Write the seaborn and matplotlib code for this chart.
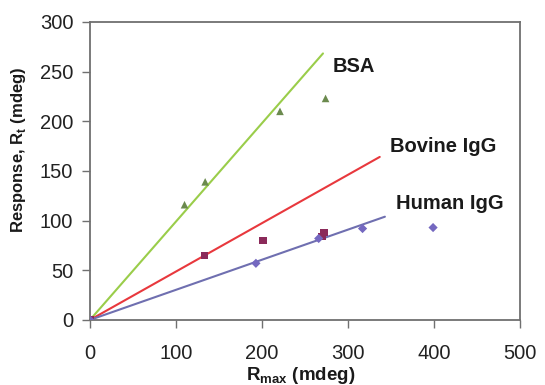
import matplotlib
matplotlib.use("Agg")
import matplotlib.pyplot as plt
import seaborn as sns

sns.set_style("white")
plt.rcParams['font.family'] = ['Liberation Sans', 'DejaVu Sans']
plt.rcParams['mathtext.fontset'] = 'custom'
plt.rcParams['mathtext.rm'] = 'Liberation Sans'
plt.rcParams['mathtext.bf'] = 'Liberation Sans:bold'

# data
bsa_x = [0, 110, 134, 221, 274]
bsa_y = [0, 116, 139, 210, 223]
bov_x = [0, 133, 201, 270, 272]
bov_y = [0, 65, 80, 84, 88]
hum_x = [0, 193, 266, 317, 399]
hum_y = [0, 57, 82, 92, 93]

# fitted lines through origin: slope and x extent
fit_names = ["BSA", "Bovine IgG", "Human IgG"]
fit_slopes = [0.99, 0.487, 0.303]
fit_xend = [271, 337, 343]

line_colors = ["#9acd4a", "#e8383d", "#6f6fb0"]
mark_colors = ["#6b8a4e", "#8b2a5a", "#7468c0"]
markers = ["^", "s", "D"]
msizes = [30, 30, 22]

fig = plt.figure(figsize=(5.45, 3.85), dpi=100)
ax = fig.add_axes([0.165, 0.169, 0.789, 0.774])

for i, name in enumerate(fit_names):
    lx = [0, fit_xend[i]]
    ly = [0, fit_slopes[i] * fit_xend[i]]
    sns.lineplot(x=lx, y=ly, ax=ax, color=line_colors[i], linewidth=1.5)

for i, (xs, ys) in enumerate([(bsa_x, bsa_y), (bov_x, bov_y), (hum_x, hum_y)]):
    sns.scatterplot(x=xs, y=ys, ax=ax, marker=markers[i], s=msizes[i],
                    color=mark_colors[i], edgecolor="none", zorder=5)

lab_kw = dict(fontsize=14.5, fontweight="bold", ha="left", va="center", color="#1a1a1a")
ax.text(282, 255, "BSA", **lab_kw)
ax.text(349, 175, "Bovine IgG", **lab_kw)
ax.text(356, 117, "Human IgG", **lab_kw)

ax.set_xlim(0, 500)
ax.set_ylim(0, 300)
ax.set_xticks([0, 100, 200, 300, 400, 500])
ax.set_yticks([0, 50, 100, 150, 200, 250, 300])
ax.tick_params(axis="both", direction="out", length=6, width=1, color="#707070",
               labelsize=14.5, labelcolor="#222222", bottom=True, left=True)
ax.tick_params(axis="x", pad=11)
ax.tick_params(axis="y", pad=6)
for sp in ax.spines.values():
    sp.set_color("#707070")
    sp.set_linewidth(1.3)

ax.set_xlabel(r"R$_{\mathbf{max}}$ (mdeg)", fontsize=13.5, fontweight="bold", color="#1a1a1a")
ax.set_ylabel(r"Response, R$_{\mathbf{t}}$ (mdeg)", fontsize=12, fontweight="bold", color="#1a1a1a")
ax.xaxis.set_label_coords(0.49, -0.152)
ax.yaxis.set_label_coords(-0.145, 0.57)

fig.savefig("out.png", dpi=100)
